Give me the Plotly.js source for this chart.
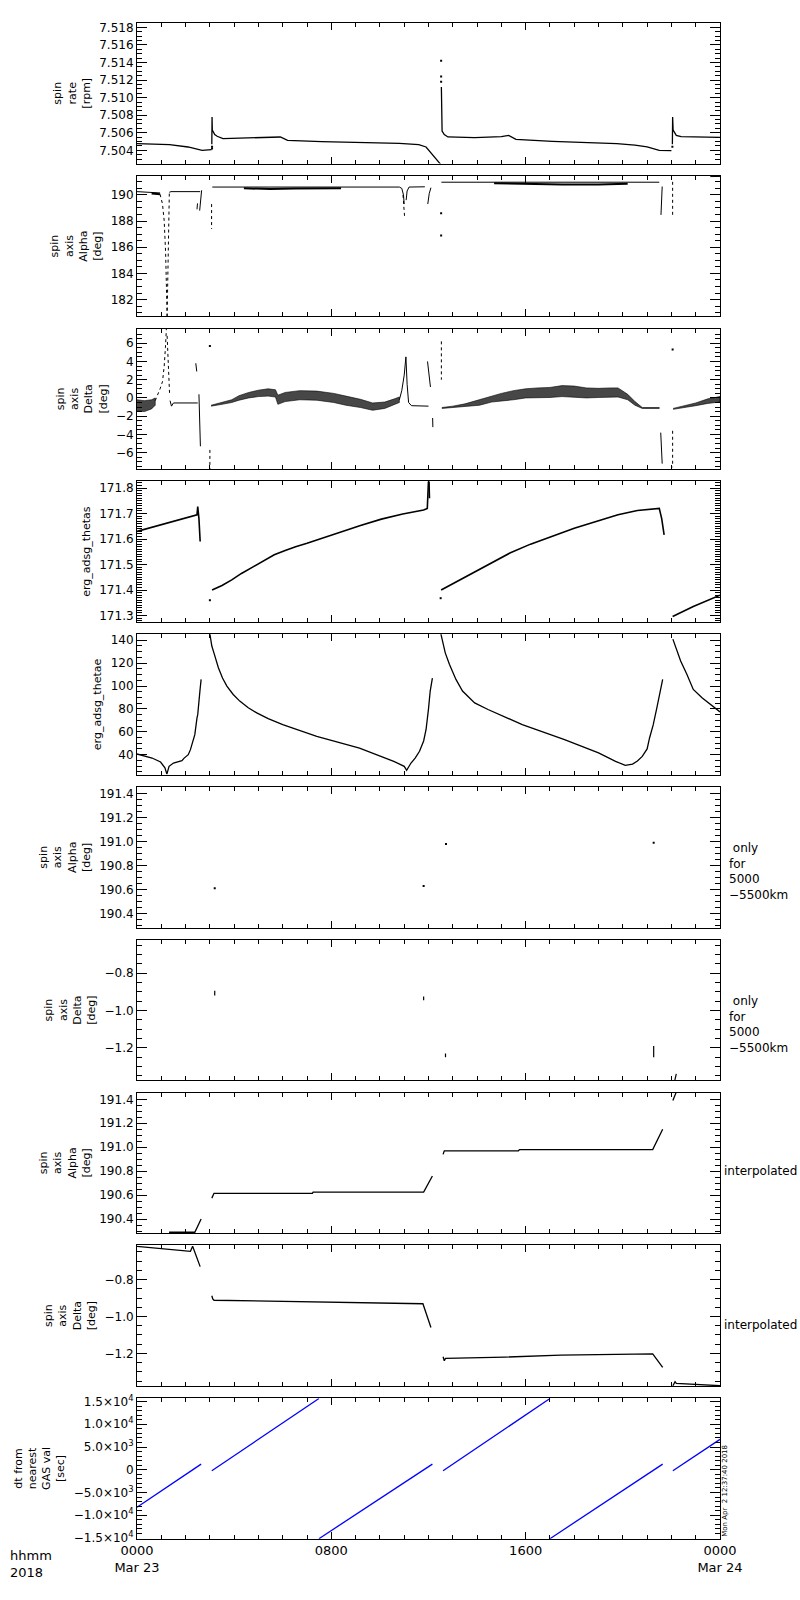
<!DOCTYPE html>
<html>
<head>
<meta charset="utf-8">
<script src="https://cdn.plot.ly/plotly-3.0.1.min.js"></script>
<style>body{margin:0;background:#fff}</style>
</head>
<body>
<div id="plot" style="width:800px;height:1600px"></div>
<script>
// times are hours after 0000 Mar 23 2018, null = gap in the data

// panel 1: spin rate [rpm]
var rateT = [0, 0.6, 1.34, 2.1, 2.68, 3.07, null, 3.08, 3.09, 3.10, 3.2, 3.3, 3.54, 4.49, 5.9, 6.2, 7.6, 10.8, 11.6, 11.9, 12.2, 12.5, null,
             12.53, 12.54, 12.56, 12.65, 12.8, 13.9, 15.0, 15.3, 15.6, 17.1, 19.75, 20.5, 21.0, 21.5, 22.0, null,
             22.04, 22.05, 22.07, 22.2, 22.4, 24];
var rateV = [7.50476, 7.50472, 7.50464, 7.50438, 7.5040, 7.50408, null, 7.5047, 7.5078, 7.5063, 7.5058, 7.5056, 7.50533, 7.5054, 7.50552, 7.50514, 7.50498, 7.5048, 7.50465, 7.50438, 7.50343, 7.5024, null,
             7.5112, 7.5070, 7.5062, 7.5058, 7.50552, 7.50544, 7.50555, 7.5057, 7.50525, 7.50502, 7.50476, 7.5046, 7.5044, 7.5040, 7.50396, null,
             7.5047, 7.5078, 7.5063, 7.5057, 7.50555, 7.50548];
var rateDotT = [12.52, 12.52, 12.52, 3.09, 3.09, 22.04];
var rateDotV = [7.5142, 7.5124, 7.5118, 7.5044, 7.5042, 7.5044];

// panel 2: spin axis alpha [deg]
var alphaT = [0, 0.65, 0.95, null, 1.33, 1.4, 2.6, null, 2.47, 2.49, null, 2.58, 2.62, 2.66, null,
              3.1, 4.3, 5.5, 7.0, 8.5, 10.8, 10.9, 10.97, 11.0, null, 11.08, 11.12, 11.2, 11.85, null,
              11.97, 12.03, 12.1, null, 12.53, 14.5, 16.0, 18.0, 20.0, 21.5, null, 21.57, 21.6, 21.62, null, 23.6, 24];
var alphaV = [190.25, 190.2, 190.15, null, 190.2, 190.25, 190.25, null, 188.9, 189.35, null, 188.8, 189.9, 190.35, null,
              190.6, 190.6, 190.58, 190.57, 190.58, 190.6, 190.5, 190.0, 189.3, null, 189.6, 190.3, 190.6, 190.62, null,
              189.3, 190.1, 190.55, null, 190.97, 190.97, 190.95, 190.93, 190.95, 190.97, null, 188.47, 189.6, 190.64, null, 191.4, 191.41];
var alphaDipT = [0.95, 1.05, 1.12, 1.18, 1.24, null, 1.24, 1.27, 1.3, 1.33, null, 3.07, 3.07, null, 10.95, 10.99, 11.02, null, 22.05, 22.05];
var alphaDipV = [190.05, 189.3, 188.0, 185.5, 180.7, null, 180.7, 185.0, 188.5, 190.1, null, 189.3, 187.4, null, 190.0, 189.0, 188.2, null, 191.0, 188.4];
var alphaNoiseT = [0.6, 0.95, null, 4.4, 5.5, 6.5, 8.4, null, 14.7, 16.0, 17.5, 19.0, 20.2];
var alphaNoiseV = [190.1, 190.05, null, 190.5, 190.45, 190.48, 190.5, null, 190.9, 190.85, 190.8, 190.8, 190.85];
var alphaDotT = [12.52, 12.52];
var alphaDotV = [188.6, 186.9];

// panel 3: spin axis delta [deg], noisy stretches as low/high envelopes
var bandAT = [0, 0.3, 0.6, 0.75];
var bandALo = [-1.4, -1.5, -1.2, -0.8];
var bandAHi = [-0.2, -0.3, -0.2, 0.0];
var bandBT = [3.05, 3.5, 3.9, 4.2, 4.6, 5.0, 5.4, 5.7, 5.8, 6.1, 6.7, 7.4, 8.1, 8.6, 9.2, 9.7, 10.2, 10.6, 10.8];
var bandBLo = [-0.9, -0.7, -0.5, -0.25, 0, 0.15, 0.2, 0.1, -0.7, -0.4, -0.2, -0.25, -0.5, -0.8, -1.05, -1.35, -1.15, -0.7, -0.5];
var bandBHi = [-0.8, -0.5, -0.2, 0.25, 0.6, 0.85, 1.0, 0.9, 0.3, 0.6, 0.8, 0.75, 0.5, 0.2, -0.15, -0.55, -0.45, -0.1, 0.1];
var bandCT = [12.55, 13.0, 13.5, 14.1, 14.6, 15.0, 15.5, 16.0, 16.5, 17.0, 17.5, 18.0, 18.5, 19.0, 19.5, 19.8, 20.2, 20.5, 20.8, 21.5];
var bandCLo = [-1.15, -1.1, -0.95, -0.8, -0.45, -0.3, -0.2, 0, 0, 0.05, 0.15, 0.1, 0, 0.05, 0.1, 0.1, -0.2, -0.8, -1.15, -1.15];
var bandCHi = [-1.05, -0.9, -0.65, -0.2, 0.25, 0.5, 0.8, 1.0, 1.1, 1.15, 1.35, 1.3, 1.1, 1.05, 1.1, 1.1, 0.4, -0.4, -1.05, -1.05];
var bandDT = [22.07, 22.5, 23.0, 23.5, 24];
var bandDLo = [-1.25, -1.1, -0.85, -0.6, -0.45];
var bandDHi = [-1.15, -0.9, -0.55, -0.1, 0.15];
var deltaT = [1.36, 1.42, 1.5, 2.5, null, 2.42, 2.46, null, 2.55, 2.58, 2.61, null,
              10.8, 10.9, 11.0, 11.07, 11.12, 11.18, 11.3, 12.0, null, 11.96, 12.08, null, 12.17, 12.18, null, 21.56, 21.62];
var deltaV = [-0.3, -0.9, -0.55, -0.55, null, 3.8, 2.9, null, 0.4, -2.0, -5.3, null,
              -0.2, 0.8, 2.5, 4.5, 1.5, -0.5, -0.85, -0.9, null, 4.0, 1.2, null, -2.2, -3.2, null, -3.8, -7.2];
var deltaDotT = [0.75, 0.85, 0.95, 1.05, 1.12, 1.17, 1.21, null, 1.24, 1.27, 1.3, 1.34, null, 3.0, 3.0, null, 12.53, 12.53, null, 22.05, 22.05];
var deltaDotV = [-0.3, 0.3, 1.0, 1.8, 3.5, 5.5, 7.6, null, 6.8, 4.5, 2.5, 0.5, null, -5.7, -7.8, null, 6.2, 2.0, null, -3.6, -7.6];
var deltaPtT = [3.0, 22.05];
var deltaPtV = [5.7, 5.3];

// panel 4: erg_adsg_thetas
var thetasT = [0, 1.24, 2.47, 2.5, 2.55, 2.6, null, 3.09, 3.5, 3.9, 4.3, 4.76, 5.2, 5.65, 6.1, 6.53, 7.0, 7.4, 8.3, 9.2, 10.06, 10.94, 11.8, 11.95, 12.0, null, 12.02, 12.04, null,
               12.52, 13.0, 13.6, 14.5, 15.35, 16.2, 17.1, 18.0, 18.9, 19.8, 20.6, 21.5, 21.6, 21.7, null, 22.05, 22.9, 24];
var thetasV = [171.63, 171.662, 171.695, 171.727, 171.68, 171.59, null, 171.40, 171.418, 171.44, 171.465, 171.49, 171.515, 171.538, 171.555, 171.57, 171.583, 171.596, 171.623, 171.653, 171.678, 171.698, 171.714, 171.72, 171.83, null, 171.83, 171.76, null,
               171.40, 171.425, 171.453, 171.5, 171.545, 171.58, 171.612, 171.642, 171.669, 171.695, 171.712, 171.72, 171.68, 171.616, null, 171.296, 171.335, 171.38];
var thetasDotT = [3.0, 12.5];
var thetasDotV = [171.36, 171.368];

// panel 5: erg_adsg_thetae
var thetaeT = [0, 0.62, 0.97, 1.15, 1.23, 1.32, 1.5, 1.85, 1.94, 2.11, 2.2, 2.29, 2.38, 2.47, 2.5, 2.59, 2.64, null,
               3.0, 3.08, 3.17, 3.35, 3.52, 3.7, 3.96, 4.23, 4.58, 4.93, 5.4, 6.0, 7.4, 9.16, 10.57, 11.0, 11.1, 11.28, 11.45, 11.63, 11.8, 11.9, 12.0, 12.07, 12.16, null,
               12.51, 12.69, 12.86, 13.13, 13.4, 13.9, 14.45, 15.86, 17.6, 19.0, 19.7, 20.1, 20.4, 20.6, 20.8, 21.0, 21.1, 21.25, 21.4, 21.55, 21.64, null,
               22.06, 22.2, 22.38, 22.64, 22.9, 23.26, 23.6, 24];
var thetaeV = [40.6, 37.1, 33.6, 28.5, 23, 29.8, 32.7, 34.7, 37, 40, 44.4, 51.7, 57.5, 72.2, 75, 95.6, 105.8, null,
               145.5, 135, 128.8, 116, 107, 100, 92.6, 86.8, 81, 76.5, 71.5, 66.3, 56, 45.8, 34.2, 29.8, 26.3, 32.7, 37, 43, 52, 62, 80, 95.6, 107, null,
               145.5, 129, 119, 105.8, 95.6, 85.3, 79.5, 66.3, 53.2, 41.5, 34.2, 30.6, 31.8, 34.5, 38.5, 45, 54.6, 66, 81, 97, 105.8, null,
               141, 132, 121.9, 110, 97, 89.7, 83.9, 77.4];

// panel 6 and 7: alpha / delta only for 5000-5500 km
var alphaKmT = [3.2, 11.8, 12.72, 21.27];
var alphaKmV = [190.61, 190.63, 190.98, 190.99];
var deltaKmT = [3.2, 3.2, null, 11.8, 11.8, null, 12.7, 12.7, null, 21.27, 21.27, null, 22.14, 22.2];
var deltaKmV = [-0.895, -0.92, null, -0.925, -0.945, null, -1.23, -1.25, null, -1.19, -1.25, null, -1.374, -1.34];

// panel 8 and 9: interpolated alpha / delta
var alphaIntT = [1.32, 2.38, 2.64, null, 3.08, 3.17, 7.22, 7.25, 11.8, 12.16, null, 12.6, 12.65, 15.7, 15.75, 21.23, 21.64, null, 22.06, 22.2];
var alphaIntV = [190.29, 190.29, 190.4, null, 190.575, 190.615, 190.615, 190.625, 190.625, 190.76, null, 190.94, 190.97, 190.97, 190.98, 190.98, 191.15, null, 191.39, 191.46];
var deltaIntT = [0, 1.06, 2.2, 2.29, 2.6, null, 3.08, 3.12, 3.17, 6.0, 8.6, 11.77, 12.1, null,
                 12.6, 12.65, 12.7, 15.15, 17.44, 21.23, 21.64, null, 22.06, 22.15, 22.2, 24];
var deltaIntV = [-0.62, -0.633, -0.647, -0.62, -0.73, null, -0.888, -0.905, -0.912, -0.917, -0.924, -0.931, -1.06, null,
                 -1.218, -1.24, -1.227, -1.22, -1.209, -1.202, -1.276, null, -1.375, -1.353, -1.362, -1.375];

// panel 10: dt from nearest GAS val [sec]
var dtT = [0, 2.64, null, 3.08, 7.49, null, 7.49, 12.16, null, 12.6, 17.0, null, 17.0, 21.64, null, 22.06, 24];
var dtV = [-8235, 1250, null, -220, 15660, null, -15150, 1250, null, -220, 15660, null, -15150, 1250, null, -220, 6690];

var xTickVals = [0, 8, 16, 24];
var xTickText = ['0000<br>Mar 23', '0800', '1600', '0000<br>Mar 24'];
var dtTickVals = [-15000, -10000, -5000, 0, 5000, 10000, 15000];
var dtTickText = ['\u22121.5\u00d710<sup>4</sup>', '\u22121.0\u00d710<sup>4</sup>', '\u22125.0\u00d710<sup>3</sup>', '0',
                  '5.0\u00d710<sup>3</sup>', '1.0\u00d710<sup>4</sup>', '1.5\u00d710<sup>4</sup>'];

var FONT = 'DejaVu Sans';
var data = [];

function ax(n) { return n == 1 ? '' : String(n); }

function line(n, x, y, opt) {
    opt = opt || {};
    data.push({
        x: x, y: y, type: 'scatter', mode: 'lines',
        line: {color: opt.color || 'black', width: opt.width || 1, dash: opt.dash || 'solid'},
        connectgaps: false,
        xaxis: 'x' + ax(n), yaxis: 'y' + ax(n), showlegend: false, hoverinfo: 'skip'
    });
}
function dots(n, x, y) {
    data.push({
        x: x, y: y, type: 'scatter', mode: 'markers',
        marker: {color: 'black', size: 2, symbol: 'square'},
        xaxis: 'x' + ax(n), yaxis: 'y' + ax(n), showlegend: false, hoverinfo: 'skip'
    });
}
function band(n, t, lo, hi) {
    data.push({
        x: t.concat(t.slice().reverse()), y: hi.concat(lo.slice().reverse()),
        type: 'scatter', mode: 'lines', fill: 'toself',
        fillcolor: 'rgba(0,0,0,0.72)', line: {color: 'black', width: 0.6},
        xaxis: 'x' + ax(n), yaxis: 'y' + ax(n), showlegend: false, hoverinfo: 'skip'
    });
}

line(1, rateT, rateV, {width: 1.3});
dots(1, rateDotT, rateDotV);

line(2, alphaT, alphaV);
line(2, alphaNoiseT, alphaNoiseV, {width: 2});
line(2, alphaDipT, alphaDipV, {dash: 'dot'});
dots(2, alphaDotT, alphaDotV);

band(3, bandAT, bandALo, bandAHi);
band(3, bandBT, bandBLo, bandBHi);
band(3, bandCT, bandCLo, bandCHi);
band(3, bandDT, bandDLo, bandDHi);
line(3, deltaT, deltaV);
line(3, deltaDotT, deltaDotV, {dash: 'dot'});
dots(3, deltaPtT, deltaPtV);

line(4, thetasT, thetasV, {width: 1.6});
dots(4, thetasDotT, thetasDotV);

line(5, thetaeT, thetaeV, {width: 1.3});

dots(6, alphaKmT, alphaKmV);
line(7, deltaKmT, deltaKmV, {width: 1.2});

line(8, alphaIntT, alphaIntV, {width: 1.3});
line(9, deltaIntT, deltaIntV, {width: 1.3});

line(10, dtT, dtV, {color: '#0000ff', width: 1.3});

// panel frames: [range, tick0, dtick, format, minor dtick, title]
var panels = [
    [[7.5025, 7.5185], 7.504, 0.002, '.3f', 0.0005, 'spin<br>rate<br>[rpm]'],
    [[180.72, 191.46], 182, 2, 'd', 0.5, 'spin<br>axis<br>Alpha<br>[deg]'],
    [[-7.8, 7.6], -6, 2, 'd', 0.5, 'spin<br>axis<br>Delta<br>[deg]'],
    [[171.275, 171.826], 171.3, 0.1, '.1f', 0.01, 'erg_adsg_thetas'],
    [[22.5, 145.3], 40, 20, 'd', 5, 'erg_adsg_thetae'],
    [[190.283, 191.456], 190.4, 0.2, '.1f', 0.05, 'spin<br>axis<br>Alpha<br>[deg]'],
    [[-1.374, -0.622], -1.2, 0.2, '.1f', 0.05, 'spin<br>axis<br>Delta<br>[deg]'],
    [[190.283, 191.456], 190.4, 0.2, '.1f', 0.05, 'spin<br>axis<br>Alpha<br>[deg]'],
    [[-1.376, -0.615], -1.2, 0.2, '.1f', 0.05, 'spin<br>axis<br>Delta<br>[deg]'],
    [[-15150, 15735], -15000, 5000, '', 1000, 'dt from<br>nearest<br>GAS val<br>[sec]']
];

var layout = {
    width: 800,
    height: 1600,
    margin: {l: 137, r: 80, t: 23, b: 61, pad: 0},
    paper_bgcolor: 'white',
    plot_bgcolor: 'white',
    showlegend: false,
    hovermode: false,
    font: {family: FONT, size: 12, color: 'black'},
    annotations: []
};

for (var i = 0; i < panels.length; i++) {
    var n = i + 1, p = panels[i];
    var panelTop = 23 + 152.8 * i, panelBot = panelTop + 140.5;
    var last = (n == panels.length);
    var xa = {
        anchor: 'y' + ax(n),
        range: [0, 24],
        tickmode: 'array', tickvals: xTickVals, ticktext: xTickText,
        showticklabels: last,
        tickfont: {family: FONT, size: 13},
        ticks: 'inside', ticklen: 7, tickcolor: 'black', tickwidth: 1,
        minor: {tickmode: 'linear', tick0: 0, dtick: 1, ticks: 'inside', ticklen: 4, tickcolor: 'black', showgrid: false},
        showline: true, linecolor: 'black', linewidth: 1, mirror: 'allticks',
        showgrid: false, zeroline: false, fixedrange: true
    };
    if (n > 1) xa.matches = 'x';
    layout['xaxis' + ax(n)] = xa;
    var ya = {
        domain: [(1539 - panelBot) / 1516, (1539 - panelTop) / 1516],
        anchor: 'x' + ax(n),
        range: p[0],
        tickmode: 'linear', tick0: p[1], dtick: p[2],
        ticks: 'inside', ticklen: 10, tickcolor: 'black', tickwidth: 1,
        minor: {tickmode: 'linear', tick0: p[1], dtick: p[4], ticks: 'inside', ticklen: 5, tickcolor: 'black', showgrid: false},
        tickfont: {family: FONT, size: 12},
        showline: true, linecolor: 'black', linewidth: 1, mirror: 'allticks',
        showgrid: false, zeroline: false, fixedrange: true,
        title: {text: p[5], font: {family: FONT, size: 11}, standoff: 6}
    };
    if (p[3]) ya.tickformat = p[3];
    if (last) {
        ya.tickmode = 'array';
        ya.tickvals = dtTickVals;
        ya.ticktext = dtTickText;
    }
    layout['yaxis' + ax(n)] = ya;
}

function px(x) { return (x - 137) / 583; }

var side = [
    [6, '\u00a0only<br>for<br>5000<br>\u22125500km', 0.4, 727],
    [7, '\u00a0only<br>for<br>5000<br>\u22125500km', 0.4, 727],
    [8, 'interpolated', 0.44, 722],
    [9, 'interpolated', 0.43, 722]
];
side.forEach(function (s) {
    layout.annotations.push({
        xref: 'paper', yref: 'y' + s[0] + ' domain', x: px(s[3]), y: s[2],
        xanchor: 'left', yanchor: 'middle', align: 'left', showarrow: false,
        text: s[1], font: {family: FONT, size: 12}
    });
});
layout.annotations.push({
    xref: 'paper', yref: 'paper', x: px(8), y: -0.0045,
    xanchor: 'left', yanchor: 'top', align: 'left', showarrow: false,
    text: 'hhmm<br>2018', font: {family: FONT, size: 13}
});
layout.annotations.push({
    xref: 'paper', yref: 'y10 domain', x: px(725), y: 0,
    xanchor: 'center', yanchor: 'bottom', textangle: -90, showarrow: false,
    text: 'Mon Apr  2 12:37:40 2018', font: {family: FONT, size: 7}
});

Plotly.newPlot('plot', data, layout, {displayModeBar: false, staticPlot: true});
</script>
</body>
</html>
